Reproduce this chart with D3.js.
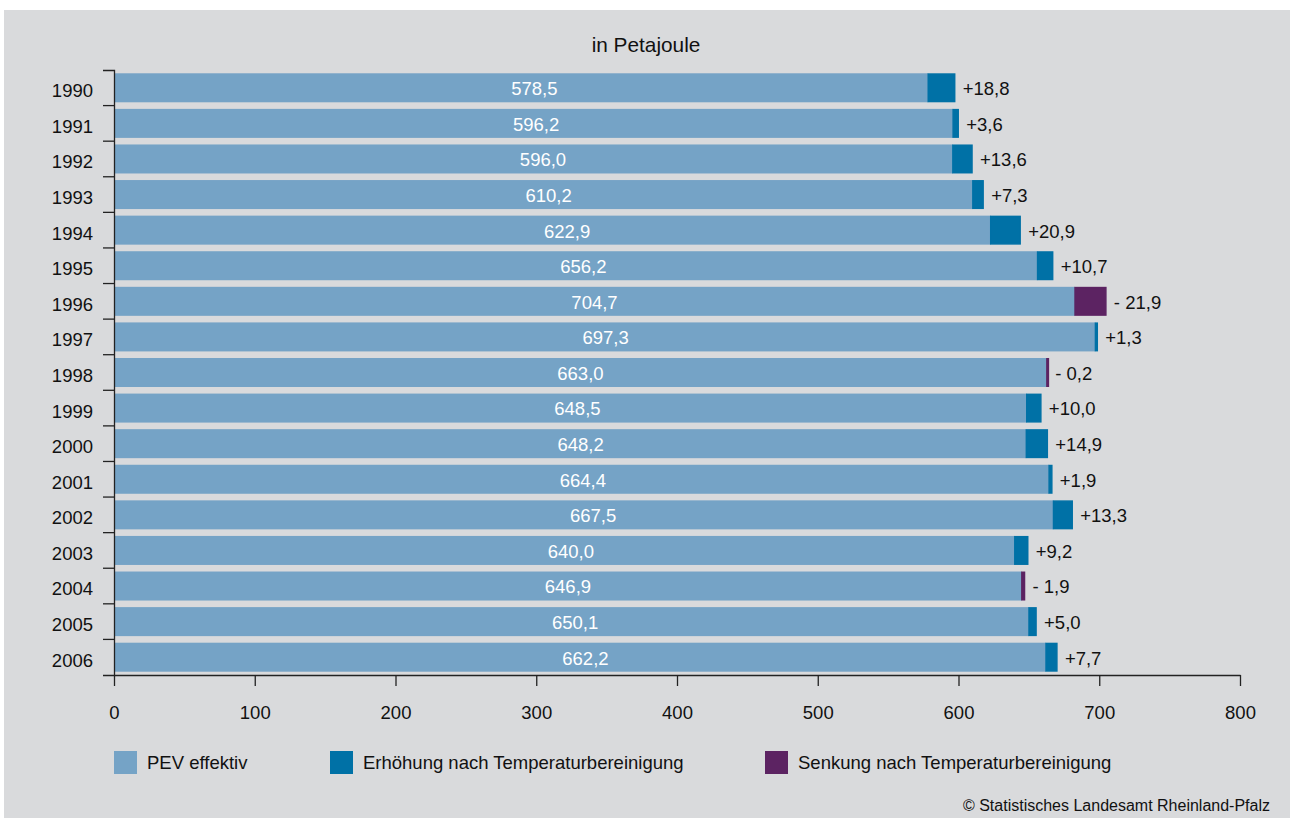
<!DOCTYPE html>
<html><head><meta charset="utf-8">
<script src="https://cdn.jsdelivr.net/npm/d3@7"></script>
<style>
html,body{margin:0;padding:0;background:#fff;}
svg{display:block;font-family:"Liberation Sans",Arial,Helvetica,sans-serif;}
</style></head>
<body>
<svg id="c" width="1290" height="818"></svg>
<script>
const years = ["1990","1991","1992","1993","1994","1995","1996","1997","1998","1999","2000","2001","2002","2003","2004","2005","2006"];
const pev = [578.5,596.2,596.0,610.2,622.9,656.2,704.7,697.3,663.0,648.5,648.2,664.4,667.5,640.0,646.9,650.1,662.2];
const adjust = [18.8,3.6,13.6,7.3,20.9,10.7,-21.9,1.3,-0.2,10.0,14.9,1.9,13.3,9.2,-1.9,5.0,7.7];
const xTicks = [0,100,200,300,400,500,600,700,800];
const seriesNames = ["PEV effektiv","Erhöhung nach Temperaturbereinigung","Senkung nach Temperaturbereinigung"];
const title = "in Petajoule";
const source = "© Statistisches Landesamt Rheinland-Pfalz";

const colLight = "#75a3c6", colUp = "#0071a6", colDown = "#5c2362";
const fs = 18.5;
const fmt = v => v.toFixed(1).replace(".", ",");
const fmtAdj = v => v >= 0 ? "+" + fmt(v) : "- " + fmt(-v);

const svg = d3.select("#c");
svg.append("rect").attr("x",4).attr("y",10).attr("width",1286).attr("height",808).attr("fill","#d9dadc");

const x = d3.scaleLinear().domain([0,800]).range([114,1240]);
const y = d3.scaleBand().domain(years).range([70,675]).paddingInner(0.185).paddingOuter(0.0925);

const data = years.map((yr,i)=>({year:yr, pev:pev[i], adj:adjust[i]}));

svg.append("text").attr("x",646).attr("y",51.5).attr("text-anchor","middle")
  .attr("font-size",20.8).attr("fill","#111").text(title);

// light bars
svg.append("g").selectAll("rect").data(data).join("rect")
  .attr("x",x(0)).attr("y",d=>y(d.year)).attr("height",y.bandwidth())
  .attr("width",d=>x(Math.min(d.pev,d.pev+d.adj))-x(0)).attr("fill",colLight);
// adjustment segments
svg.append("g").selectAll("rect").data(data).join("rect")
  .attr("x",d=>x(Math.min(d.pev,d.pev+d.adj))).attr("y",d=>y(d.year)+0.75).attr("height",y.bandwidth()-1.5)
  .attr("width",d=>Math.max(1.5,Math.abs(x(d.pev+d.adj)-x(d.pev))))
  .attr("fill",d=>d.adj>=0?colUp:colDown)
  .attr("stroke",d=>d.adj>=0?colUp:colDown).attr("stroke-width",1.5);
// inner labels
svg.append("g").selectAll("text").data(data).join("text")
  .attr("x",d=>x((d.pev+d.adj)/2)).attr("y",d=>y(d.year)+y.bandwidth()/2).attr("dy","0.4em")
  .attr("text-anchor","middle").attr("font-size",fs).attr("fill","#fff").text(d=>fmt(d.pev));
// adjustment labels
svg.append("g").selectAll("text").data(data).join("text")
  .attr("x",d=>x(Math.max(d.pev,d.pev+d.adj))+8).attr("y",d=>y(d.year)+y.bandwidth()/2).attr("dy","0.4em")
  .attr("font-size",fs).attr("fill","#111").text(d=>fmtAdj(d.adj));

// y axis
const ya = svg.append("g").attr("transform",`translate(${x(0)},0)`)
  .call(d3.axisLeft(y).tickSizeInner(0).tickSizeOuter(11).tickPadding(21));
ya.attr("font-family",null).attr("font-size",null);
ya.selectAll("text").attr("font-size",fs).attr("fill","#111").attr("dy","0.51em");
ya.select(".domain").attr("stroke","#222").attr("stroke-width",1.3);
const half = y.step()*y.paddingInner()/2;
ya.append("g").selectAll("line").data(years.slice(1)).join("line")
  .attr("x1",-11).attr("x2",0).attr("y1",d=>y(d)-half).attr("y2",d=>y(d)-half)
  .attr("stroke","#222").attr("stroke-width",1.3);

// x axis
const xa = svg.append("g").attr("transform","translate(0,675)")
  .call(d3.axisBottom(x).tickValues(xTicks).tickSizeInner(11).tickSizeOuter(0).tickPadding(20).tickFormat(d3.format("d")));
xa.attr("font-family",null).attr("font-size",null);
xa.selectAll("text").attr("font-size",fs).attr("fill","#111");
xa.selectAll("line").attr("stroke","#222").attr("stroke-width",1.3);
xa.select(".domain").attr("stroke","#222").attr("stroke-width",1.3);

// legend
const legX = [114,330,765];
const legCol = [colLight,colUp,colDown];
const lg = svg.append("g").selectAll("g").data(seriesNames).join("g")
  .attr("transform",(d,i)=>`translate(${legX[i]},751)`);
lg.append("rect").attr("width",23).attr("height",23).attr("fill",(d,i)=>legCol[i]);
lg.append("text").attr("x",33).attr("y",11.5).attr("dy","0.36em").attr("font-size",fs).attr("fill","#111").text(d=>d);

svg.append("text").attr("x",1270).attr("y",811).attr("text-anchor","end")
  .attr("font-size",16).attr("fill","#111").text(source);
</script>
</body></html>
